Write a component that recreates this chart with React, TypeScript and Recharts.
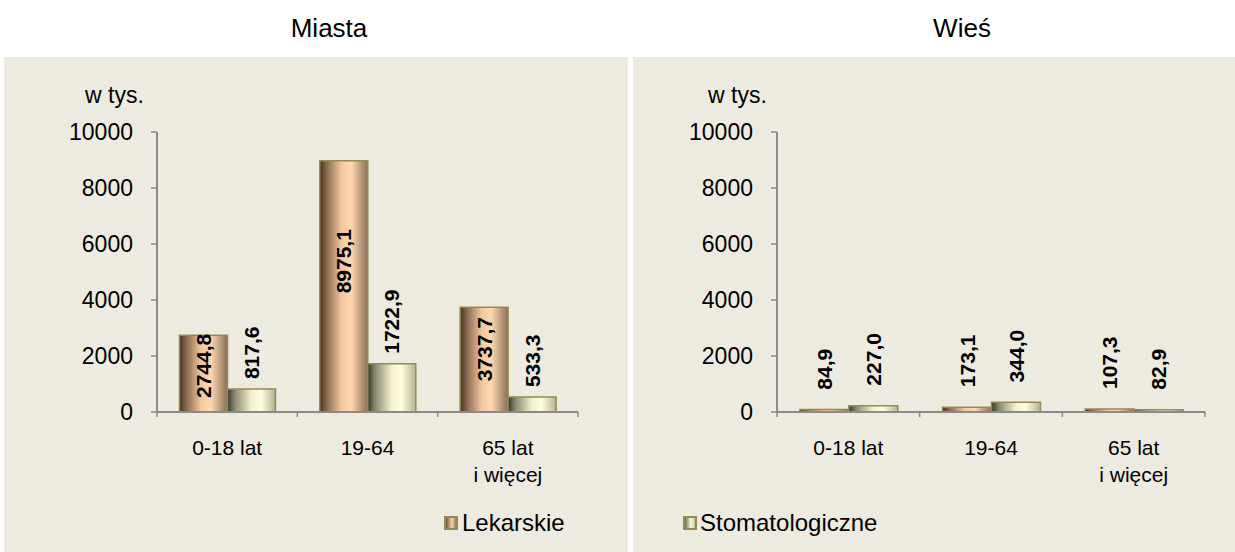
import React from 'react';
import { BarChart, Bar, XAxis, YAxis, LabelList } from 'recharts';

const categories = ['0-18 lat', '19-64', '65 lat\ni więcej'];
const miastaLekarskie = [2744.8, 8975.1, 3737.7];
const miastaStomatologiczne = [817.6, 1722.9, 533.3];
const wiesLekarskie = [84.9, 173.1, 107.3];
const wiesStomatologiczne = [227.0, 344.0, 82.9];
const yTicks = [0, 2000, 4000, 6000, 8000, 10000];
const seriesNames = ['Lekarskie', 'Stomatologiczne'];

const FONT = '"Liberation Sans", Arial, sans-serif';
const PANEL = '#EDEAE0';
const AXIS = '#8a8a8a';
const BORDER = '#948a54';
const TICK_SIZE = 6;
const TICK_MARGIN = 14;

const buildRows = (a: number[], b: number[]) =>
    categories.map((name, i) => ({ name, lek: a[i], stom: b[i] }));

const fmt = (v: number) => v.toFixed(1).replace('.', ',');

const CategoryTick = (props: any) => {
    const { x, y, payload } = props;
    const half = payload && payload.offset ? payload.offset : 0;
    const axisY = y - TICK_SIZE - TICK_MARGIN;
    const lines = String(payload.value).split('\n');
    return (
        <g>
            <line x1={x - half} x2={x - half} y1={axisY} y2={axisY + 5} stroke={AXIS} strokeWidth={1.5} />
            {payload.index === categories.length - 1 && (
                <line x1={x + half} x2={x + half} y1={axisY} y2={axisY + 5} stroke={AXIS} strokeWidth={1.5} />
            )}
            <text x={x} y={axisY + 43} textAnchor="middle" fill="#000" fontSize={21} fontFamily={FONT}>
                {lines.map((l, i) => (
                    <tspan key={i} x={x} dy={i === 0 ? 0 : 27}>{l}</tspan>
                ))}
            </text>
        </g>
    );
};

const makeLabel = (mode: 'inside' | 'above', gap: number) => (props: any) => {
    const { x, y, width, height, value } = props;
    const cx = x + width / 2;
    const cy = mode === 'inside' ? y + height * 0.4 : y - gap;
    return (
        <text
            x={cx}
            y={cy}
            dy="0.36em"
            transform={`rotate(-90, ${cx}, ${cy})`}
            textAnchor={mode === 'inside' ? 'middle' : 'start'}
            fontSize={21}
            fontWeight="bold"
            fontFamily={FONT}
            fill="#000"
        >
            {fmt(value)}
        </text>
    );
};

const Gradients = () => (
    <defs>
        <linearGradient id="gradLek" x1="0" y1="0" x2="1" y2="0">
            <stop offset="0%" stopColor="#45321f" />
            <stop offset="15%" stopColor="#8c6c52" />
            <stop offset="45%" stopColor="#f3c79e" />
            <stop offset="65%" stopColor="#ffd8b0" />
            <stop offset="100%" stopColor="#8a6e55" />
        </linearGradient>
        <linearGradient id="gradStom" x1="0" y1="0" x2="1" y2="0">
            <stop offset="0%" stopColor="#36362b" />
            <stop offset="15%" stopColor="#8a8870" />
            <stop offset="50%" stopColor="#f3f1cc" />
            <stop offset="70%" stopColor="#fffde0" />
            <stop offset="100%" stopColor="#b5b190" />
        </linearGradient>
    </defs>
);

interface PanelChartProps {
    rows: { name: string; lek: number; stom: number }[];
    width: number;
    marginLeft: number;
    marginRight: number;
    lekInside: boolean;
    gap: number;
}

const PanelChart = ({ rows, width, marginLeft, marginRight, lekInside, gap }: PanelChartProps) => (
    <BarChart
        width={width}
        height={552}
        data={rows}
        margin={{ top: 132, right: marginRight, bottom: 60, left: marginLeft }}
        barCategoryGap="16%"
        barGap={0}
    >
        <Gradients />
        <XAxis
            dataKey="name"
            height={80}
            axisLine={{ stroke: AXIS, strokeWidth: 2 }}
            tickLine={false}
            tickSize={TICK_SIZE}
            tickMargin={TICK_MARGIN}
            tick={<CategoryTick />}
            interval={0}
        />
        <YAxis
            domain={[0, 10000]}
            ticks={yTicks}
            width={60}
            interval={0}
            axisLine={{ stroke: AXIS, strokeWidth: 2 }}
            tickLine={{ stroke: AXIS, strokeWidth: 1.5 }}
            tickSize={TICK_SIZE}
            tickMargin={18}
            tick={{ fill: '#000', fontSize: 23, fontFamily: FONT }}
        />
        <Bar dataKey="lek" name={seriesNames[0]} fill="url(#gradLek)" stroke={BORDER} strokeWidth={1.5} isAnimationActive={false}>
            <LabelList dataKey="lek" content={makeLabel(lekInside ? 'inside' : 'above', gap)} />
        </Bar>
        <Bar dataKey="stom" name={seriesNames[1]} fill="url(#gradStom)" stroke={BORDER} strokeWidth={1.5} isAnimationActive={false}>
            <LabelList dataKey="stom" content={makeLabel('above', gap)} />
        </Bar>
    </BarChart>
);

const legendBox = (grad: string) => ({
    position: 'absolute' as const,
    width: 10,
    height: 10,
    border: `2px solid ${BORDER}`,
    background: grad,
});

export default function App() {
    return (
        <div style={{ position: 'fixed', left: 0, top: 0, width: 1235, height: 552, background: '#fff', fontFamily: FONT, overflow: 'hidden' }}>
            <div style={{ position: 'absolute', left: 4, top: 57, width: 624, height: 495, background: PANEL }} />
            <div style={{ position: 'absolute', left: 633, top: 57, width: 602, height: 495, background: PANEL }} />

            <div style={{ position: 'absolute', left: 4, width: 650, top: 13, textAlign: 'center', fontSize: 26, lineHeight: '30px' }}>Miasta</div>
            <div style={{ position: 'absolute', left: 633, width: 658, top: 13, textAlign: 'center', fontSize: 26, lineHeight: '30px' }}>Wieś</div>

            <div style={{ position: 'absolute', left: 85, top: 82, fontSize: 23, lineHeight: '26px' }}>w tys.</div>
            <div style={{ position: 'absolute', left: 708, top: 82, fontSize: 23, lineHeight: '26px' }}>w tys.</div>

            <div style={{ position: 'absolute', left: 0, top: 0 }}>
                <PanelChart rows={buildRows(miastaLekarskie, miastaStomatologiczne)} width={628} marginLeft={97} marginRight={50} lekInside={true} gap={10} />
            </div>
            <div style={{ position: 'absolute', left: 633, top: 0 }}>
                <PanelChart rows={buildRows(wiesLekarskie, wiesStomatologiczne)} width={602} marginLeft={84} marginRight={30} lekInside={false} gap={20} />
            </div>

            <div style={{ ...legendBox('linear-gradient(to right, #6e533e, #ffd3a8 60%, #9a7a5e)'), left: 444, top: 516 }} />
            <div style={{ position: 'absolute', left: 462, top: 509, fontSize: 24, lineHeight: '28px' }}>{seriesNames[0]}</div>
            <div style={{ ...legendBox('linear-gradient(to right, #6b6a52, #fdfbd8 60%, #c2be98)'), left: 683, top: 516 }} />
            <div style={{ position: 'absolute', left: 700, top: 509, fontSize: 24, lineHeight: '28px' }}>{seriesNames[1]}</div>
        </div>
    );
}
